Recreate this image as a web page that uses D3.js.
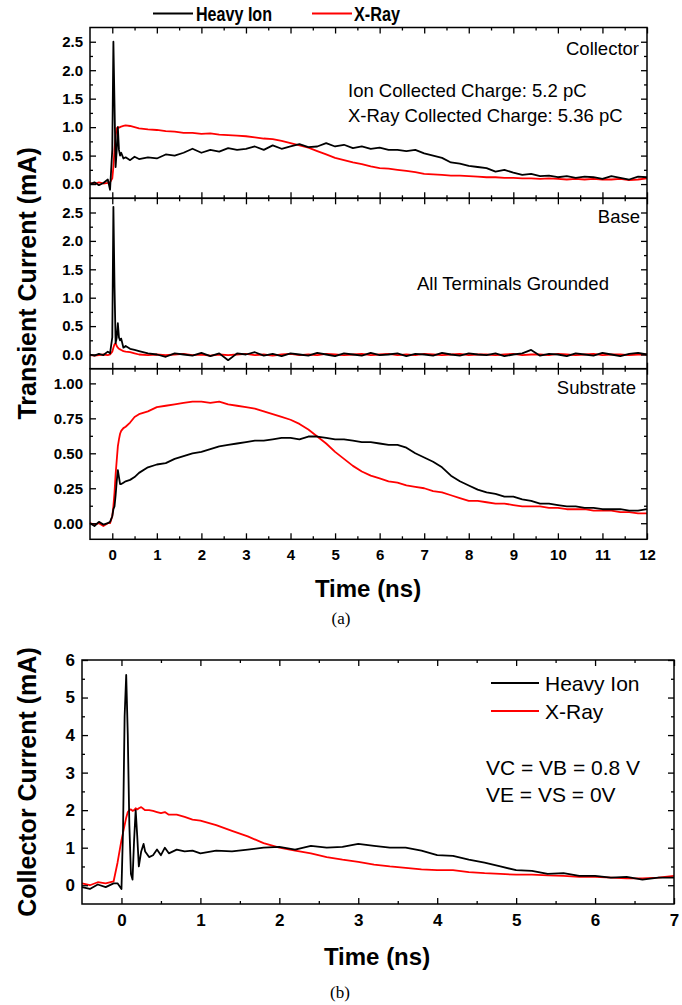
<!DOCTYPE html>
<html>
<head>
<meta charset="utf-8">
<script src="https://cdn.jsdelivr.net/npm/d3@7"></script>
<style>
  body { margin: 0; background: #fff; }
  svg { display: block; font-family: "Liberation Sans", Arial, sans-serif; }
</style>
</head>
<body>
<div id="chart"></div>
<script>
// ---- data ----

// (a) shared time grid, ns
const timeA = [-0.5, -0.4, -0.3, -0.2, -0.1, -0.05, 0, 0.025, 0.05, 0.075, 0.1, 0.125, 0.15, 0.175, 0.2, 0.25, 0.3, 0.4, 0.5,
  0.6, 0.8, 1.0, 1.2, 1.4, 1.6, 1.8, 2.0, 2.2, 2.4,
  2.6, 2.8, 3.0, 3.2, 3.4, 3.6, 3.8, 4.0, 4.2, 4.4,
  4.6, 4.8, 5.0, 5.2, 5.4, 5.6, 5.8, 6.0, 6.2, 6.4,
  6.6, 6.8, 7.0, 7.2, 7.4, 7.6, 7.8, 8.0, 8.2, 8.4,
  8.6, 8.8, 9.0, 9.2, 9.4, 9.6, 9.8, 10.0, 10.2, 10.4,
  10.6, 10.8, 11.0, 11.2, 11.4, 11.6, 11.8, 12.0];

const collectorIon = [0.0, 0.03, -0.02, 0.02, 0.08, -0.1, 0.6, 2.5, 1.4, 0.3, 0.6, 1.0, 0.6, 0.5, 0.55, 0.45, 0.47, 0.42, 0.48,
  0.44, 0.47, 0.45, 0.52, 0.5, 0.55, 0.62, 0.55, 0.6, 0.57,
  0.63, 0.6, 0.62, 0.66, 0.6, 0.68, 0.62, 0.66, 0.7, 0.65,
  0.66, 0.72, 0.66, 0.69, 0.63, 0.66, 0.62, 0.64, 0.6, 0.6,
  0.58, 0.6, 0.54, 0.5, 0.46, 0.38, 0.36, 0.32, 0.3, 0.28,
  0.22, 0.25, 0.2, 0.16, 0.18, 0.14, 0.15, 0.12, 0.14, 0.11,
  0.13, 0.12, 0.09, 0.14, 0.11, 0.08, 0.13, 0.12];
const collectorXray = [0.02, 0.0, 0.03, 0.01, 0.02, 0.03, 0.1, 0.3, 0.6, 0.85, 0.98, 1.0, 0.99, 1.0, 1.01, 1.02, 1.03, 1.02, 1.0,
  0.98, 0.96, 0.95, 0.93, 0.92, 0.9, 0.9, 0.88, 0.89, 0.87,
  0.86, 0.85, 0.84, 0.82, 0.8, 0.79, 0.76, 0.72, 0.68, 0.64,
  0.58, 0.52, 0.46, 0.42, 0.38, 0.35, 0.31, 0.28, 0.27, 0.25,
  0.23, 0.21, 0.18, 0.17, 0.16, 0.15, 0.15, 0.14, 0.13, 0.12,
  0.12, 0.11, 0.11, 0.1, 0.1, 0.09, 0.1, 0.09, 0.08, 0.09,
  0.08, 0.09, 0.08, 0.08, 0.09, 0.07, 0.08, 0.1];

const baseIon = [0.0, -0.02, 0.01, -0.01, 0.05, 0.02, 0.3, 2.6, 1.2, 0.2, 0.3, 0.55, 0.3, 0.25, 0.28, 0.12, 0.15, 0.1, 0.08,
  0.06, 0.02, 0.0, -0.04, 0.02, 0.0, -0.02, 0.03, -0.03, 0.02,
  -0.1, 0.02, 0.0, 0.04, -0.02, 0.01, -0.03, 0.02, 0.0, -0.02,
  0.03, 0.0, -0.03, 0.02, 0.0, -0.02, 0.03, -0.01, 0.0, 0.02,
  -0.03, 0.01, 0.0, -0.02, 0.03, 0.0, -0.02, 0.02, 0.0, -0.01,
  0.02, -0.03, 0.0, 0.02, 0.08, -0.02, 0.01, 0.0, -0.03, 0.02,
  0.0, -0.02, 0.03, 0.0, -0.03, 0.01, 0.03, 0.0];
const baseXray = [-0.01, -0.02, -0.01, 0.0, -0.01, 0.0, 0.05, 0.12, 0.18, 0.2, 0.15, 0.12, 0.1, 0.09, 0.08, 0.06, 0.05, 0.04, 0.02,
  0.0, -0.01, 0.0, -0.01, 0.0, 0.01, -0.01, 0.0, -0.02, 0.0,
  -0.01, 0.0, 0.01, -0.01, 0.0, -0.02, 0.0, 0.01, -0.01, 0.0,
  -0.01, 0.01, 0.0, -0.01, 0.0, 0.01, -0.01, 0.0, 0.01, -0.01,
  0.0, -0.01, 0.01, 0.0, -0.01, 0.0, 0.01, -0.01, 0.0, 0.0,
  -0.01, 0.0, 0.01, -0.01, 0.0, 0.0, -0.01, 0.01, 0.0, -0.01,
  0.0, 0.01, -0.01, 0.0, 0.0, -0.01, 0.0, 0.0];

const substrateIon = [0.0, -0.02, 0.01, -0.01, 0.0, 0.01, 0.05, 0.1, 0.12, 0.2, 0.3, 0.38, 0.33, 0.28, 0.28, 0.29, 0.3, 0.31, 0.33,
  0.36, 0.4, 0.42, 0.43, 0.46, 0.48, 0.5, 0.51, 0.53, 0.55,
  0.56, 0.57, 0.58, 0.59, 0.59, 0.6, 0.61, 0.61, 0.6, 0.62,
  0.62, 0.61, 0.6, 0.6, 0.59, 0.58, 0.58, 0.57, 0.56, 0.56,
  0.54, 0.5, 0.47, 0.44, 0.4, 0.34, 0.3, 0.27, 0.24, 0.22,
  0.21, 0.19, 0.19, 0.17, 0.16, 0.14, 0.14, 0.13, 0.12, 0.12,
  0.11, 0.11, 0.1, 0.1, 0.1, 0.09, 0.09, 0.1];
const substrateXray = [0.0, -0.01, 0.0, -0.02, 0.0, 0.0, 0.05, 0.12, 0.22, 0.35, 0.45, 0.55, 0.6, 0.64, 0.66, 0.68, 0.69, 0.72, 0.76,
  0.78, 0.8, 0.83, 0.84, 0.85, 0.86, 0.87, 0.87, 0.86, 0.87,
  0.85, 0.84, 0.83, 0.82, 0.8, 0.78, 0.76, 0.74, 0.71, 0.67,
  0.62, 0.57, 0.51, 0.46, 0.41, 0.37, 0.34, 0.32, 0.3, 0.29,
  0.27, 0.26, 0.25, 0.23, 0.22, 0.2, 0.18, 0.16, 0.16, 0.15,
  0.14, 0.14, 0.13, 0.12, 0.12, 0.12, 0.11, 0.11, 0.1, 0.1,
  0.1, 0.09, 0.09, 0.09, 0.08, 0.08, 0.07, 0.07];

// (b) time grid, ns
const timeB = [-0.5, -0.4, -0.3, -0.2, -0.1, -0.05, 0, 0.02, 0.04, 0.06, 0.08, 0.1, 0.12, 0.14, 0.16, 0.18, 0.2, 0.22, 0.25, 0.28,
  0.3, 0.35, 0.4, 0.45, 0.5, 0.55, 0.6, 0.7, 0.8, 0.9, 1.0,
  1.2, 1.4, 1.6, 1.8, 2.0, 2.2, 2.4, 2.6, 2.8, 3.0,
  3.2, 3.4, 3.6, 3.8, 4.0, 4.2, 4.4, 4.6, 4.8, 5.0,
  5.2, 5.4, 5.6, 5.8, 6.0, 6.2, 6.4, 6.6, 6.8, 7.0];
const collectorIonB = [-0.05, -0.1, 0.02, -0.05, 0.05, 0.05, -0.1, 1.5, 4.5, 5.6, 4.0, 1.6, 0.3, 0.15, 1.2, 2.0, 1.3, 0.5, 0.9, 1.1,
  0.9, 0.75, 0.8, 0.95, 0.8, 1.0, 0.85, 0.95, 0.9, 0.92, 0.85,
  0.92, 0.9, 0.95, 1.0, 1.02, 0.95, 1.05, 1.0, 1.02, 1.1,
  1.05, 1.0, 1.0, 0.92, 0.8, 0.78, 0.68, 0.6, 0.5, 0.4,
  0.38, 0.3, 0.32, 0.25, 0.25, 0.2, 0.22, 0.15, 0.2, 0.2];
const collectorXrayB = [0.05, 0.0, 0.08, 0.05, 0.1, 0.6, 1.2, 1.4, 1.6, 1.8, 1.95, 2.0, 2.02, 1.98, 2.0, 2.05, 2.02, 2.05, 2.08, 2.03,
  2.0, 2.0, 1.98, 1.95, 1.92, 1.95, 1.88, 1.88, 1.82, 1.75, 1.72,
  1.6, 1.45, 1.3, 1.12, 1.0, 0.92, 0.85, 0.75, 0.68, 0.62,
  0.55, 0.5, 0.46, 0.42, 0.4, 0.4, 0.35, 0.32, 0.3, 0.28,
  0.28, 0.26, 0.25, 0.22, 0.22, 0.2, 0.18, 0.18, 0.2, 0.25];

const seriesNames = ["Heavy Ion", "X-Ray"];
const seriesColors = ["#000000", "#ff0000"];
const panelNames = ["Collector", "Base", "Substrate"];
const ticksBig = [0, 0.5, 1.0, 1.5, 2.0, 2.5];
const ticksSub = [0, 0.25, 0.5, 0.75, 1.0];
const ticksTimeA = d3.range(0, 13);
const ticksCurrentB = d3.range(0, 7);
const ticksTimeB = d3.range(0, 8);

// ---- layout ----
const W = 682, H = 1005;
const svg = d3.select("#chart").append("svg").attr("width", W).attr("height", H);

const aLeft = 90, aRight = 647;
const panelTops = [27.5, 198.3, 368.7, 539.3];
const xA = d3.scaleLinear().domain([-0.5, 12]).range([aLeft, aRight]);

const panels = [
  { name: panelNames[0], ion: collectorIon, xray: collectorXray, domain: [-0.25, 2.75], ticks: ticksBig, fmt: d3.format(".1f") },
  { name: panelNames[1], ion: baseIon, xray: baseXray, domain: [-0.25, 2.75], ticks: ticksBig, fmt: d3.format(".1f") },
  { name: panelNames[2], ion: substrateIon, xray: substrateXray, domain: [-0.115, 1.105], ticks: ticksSub, fmt: d3.format(".2f") }
];

function midpoints(t) {
  const step = t[1] - t[0];
  return t.map(v => v + step / 2).concat([t[0] - step / 2]);
}

function frame(g, x, y, yTicks, yFmt, xTicks, showX, fontSize) {
  const [x0, x1] = x.range();
  const [yb, yt] = y.range();
  const xs = x.domain(), ys = y.domain();
  const xMinor = midpoints(xTicks).filter(v => v > xs[0] && v < xs[1]);
  const yMinor = midpoints(yTicks).filter(v => v > ys[0] && v < ys[1]);

  const put = (axis, tx, ty) => {
    const a = g.append("g").attr("transform", `translate(${tx},${ty})`).call(axis);
    a.select(".domain").remove();
    a.selectAll("line").attr("stroke", "#000").attr("stroke-width", 1.3);
    return a;
  };

  // left with labels
  const left = put(d3.axisLeft(y).tickValues(yTicks).tickFormat(yFmt).tickSize(-6).tickPadding(7), x0, 0);
  left.selectAll("text").attr("font-size", fontSize).attr("font-weight", "bold").attr("fill", "#000");
  put(d3.axisLeft(y).tickValues(yMinor).tickFormat("").tickSize(-3), x0, 0);
  put(d3.axisRight(y).tickValues(yTicks).tickFormat("").tickSize(-6), x1, 0);
  put(d3.axisRight(y).tickValues(yMinor).tickFormat("").tickSize(-3), x1, 0);
  put(d3.axisTop(x).tickValues(xTicks).tickFormat("").tickSize(-6), 0, yt);
  put(d3.axisTop(x).tickValues(xMinor).tickFormat("").tickSize(-3), 0, yt);
  const bottom = put(d3.axisBottom(x).tickValues(xTicks).tickFormat(showX ? d3.format("d") : "").tickSize(-6).tickPadding(10), 0, yb);
  bottom.selectAll("text").attr("font-size", fontSize).attr("font-weight", "bold").attr("fill", "#000");
  put(d3.axisBottom(x).tickValues(xMinor).tickFormat("").tickSize(-3), 0, yb);

  g.append("rect")
    .attr("x", x0).attr("y", yt)
    .attr("width", x1 - x0).attr("height", yb - yt)
    .attr("fill", "none").attr("stroke", "#000").attr("stroke-width", 1.5);
}

function trace(g, x, y, t, v, color) {
  const pts = t.map((tt, i) => [tt, v[i]]).filter(d => d[1] !== undefined);
  g.append("path")
    .datum(pts)
    .attr("fill", "none")
    .attr("stroke", color)
    .attr("stroke-width", 1.8)
    .attr("stroke-linejoin", "round")
    .attr("d", d3.line().x(d => x(d[0])).y(d => y(d[1])));
}

// ---- (a) stacked panels ----
panels.forEach((p, i) => {
  const y = d3.scaleLinear().domain(p.domain).range([panelTops[i + 1], panelTops[i]]);
  const g = svg.append("g");
  trace(g, xA, y, timeA, p.xray, seriesColors[1]);
  trace(g, xA, y, timeA, p.ion, seriesColors[0]);
  frame(g, xA, y, p.ticks, p.fmt, ticksTimeA, i === 2, 15);
});

const note = (x, y, txt, anchor) => svg.append("text")
  .attr("x", x).attr("y", y).attr("text-anchor", anchor || "start")
  .attr("font-size", 18.5).attr("fill", "#000").text(txt);

note(639, 55, "Collector", "end");
note(348, 97, "Ion Collected Charge: 5.2 pC");
note(348, 122, "X-Ray Collected Charge: 5.36 pC");
note(640, 223, "Base", "end");
note(417, 290, "All Terminals Grounded");
note(636, 394, "Substrate", "end");

// top legend (condensed bold text)
const legA = [{ x: 153, tx: 196, w: 76 }, { x: 312, tx: 354, w: 46 }];
legA.forEach((l, i) => {
  svg.append("line").attr("x1", l.x).attr("x2", l.x + 40).attr("y1", 13.5).attr("y2", 13.5)
    .attr("stroke", seriesColors[i]).attr("stroke-width", 2);
  svg.append("text").attr("x", l.tx).attr("y", 20.5).attr("font-size", 20).attr("font-weight", "bold")
    .attr("textLength", l.w).attr("lengthAdjust", "spacingAndGlyphs").text(seriesNames[i]);
});

svg.append("text")
  .attr("transform", `translate(36,${(panelTops[0] + panelTops[3]) / 2}) rotate(-90)`)
  .attr("text-anchor", "middle").attr("font-size", 25).attr("font-weight", "bold")
  .text("Transient Current (mA)");
svg.append("text").attr("x", 368).attr("y", 597).attr("text-anchor", "middle")
  .attr("font-size", 24).attr("font-weight", "bold").text("Time (ns)");
svg.append("text").attr("x", 341).attr("y", 624).attr("text-anchor", "middle")
  .attr("font-family", "'Liberation Serif', 'Times New Roman', serif").attr("font-size", 17).text("(a)");

// ---- (b) collector current ----
const bLeft = 82, bRight = 674, bTop = 660, bBottom = 904;
const xB = d3.scaleLinear().domain([-0.5, 7]).range([bLeft, bRight]);
const yB = d3.scaleLinear().domain([-0.5, 6]).range([bBottom, bTop]);
const gB = svg.append("g");
trace(gB, xB, yB, timeB, collectorXrayB, seriesColors[1]);
trace(gB, xB, yB, timeB, collectorIonB, seriesColors[0]);
frame(gB, xB, yB, ticksCurrentB, d3.format("d"), ticksTimeB, true, 17);

[683, 711].forEach((ly, i) => {
  svg.append("line").attr("x1", 491).attr("x2", 539).attr("y1", ly).attr("y2", ly)
    .attr("stroke", seriesColors[i]).attr("stroke-width", 2);
  svg.append("text").attr("x", 545).attr("y", ly + 8).attr("font-size", 21).text(seriesNames[i]);
});
svg.append("text").attr("x", 486).attr("y", 775).attr("font-size", 21).text("VC = VB = 0.8 V");
svg.append("text").attr("x", 486).attr("y", 802).attr("font-size", 21).text("VE = VS = 0V");

svg.append("text")
  .attr("transform", `translate(36,${(bTop + bBottom) / 2}) rotate(-90)`)
  .attr("text-anchor", "middle").attr("font-size", 25).attr("font-weight", "bold")
  .text("Collector Current (mA)");
svg.append("text").attr("x", 377).attr("y", 965).attr("text-anchor", "middle")
  .attr("font-size", 24).attr("font-weight", "bold").text("Time (ns)");
svg.append("text").attr("x", 340).attr("y", 998).attr("text-anchor", "middle")
  .attr("font-family", "'Liberation Serif', 'Times New Roman', serif").attr("font-size", 17).text("(b)");
</script>
</body>
</html>
